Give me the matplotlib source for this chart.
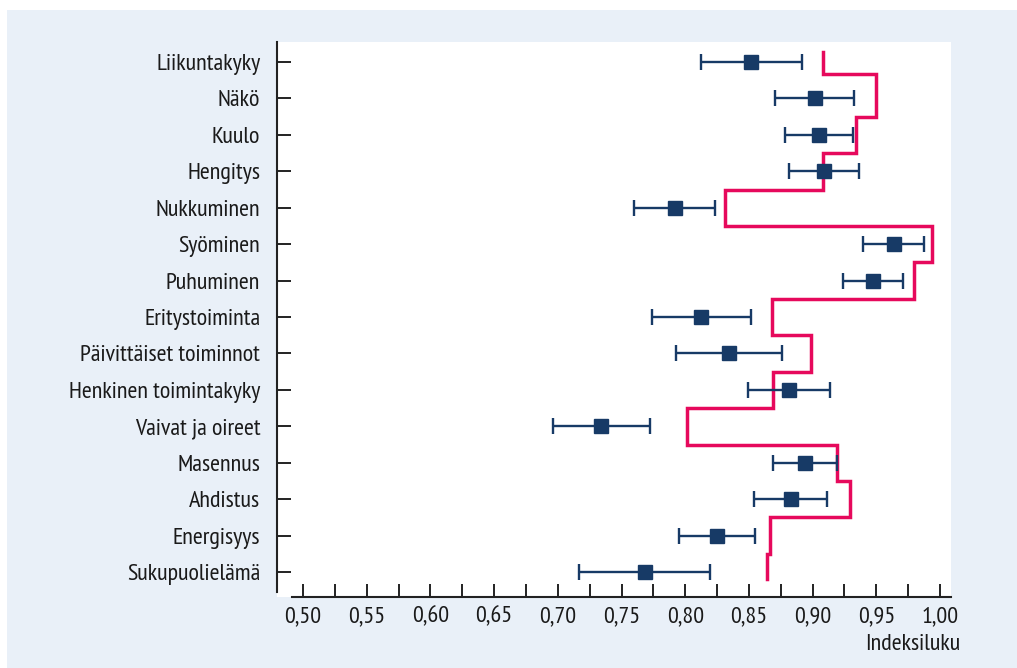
import matplotlib
matplotlib.use("Agg")
import matplotlib.pyplot as plt
from matplotlib.ticker import MultipleLocator, FuncFormatter
from matplotlib.patches import Rectangle
import numpy as np

categories = ["Liikuntakyky", "Näkö", "Kuulo", "Hengitys", "Nukkuminen", "Syöminen",
              "Puhuminen", "Eritystoiminta", "Päivittäiset toiminnot",
              "Henkinen toimintakyky", "Vaivat ja oireet", "Masennus", "Ahdistus",
              "Energisyys", "Sukupuolielämä"]
means = [0.8517, 0.9018, 0.9050, 0.9089, 0.7920, 0.9640, 0.9475, 0.8123, 0.8344,
         0.8818, 0.7337, 0.8941, 0.8833, 0.8250, 0.7685]
ci_low = [0.8123, 0.8703, 0.8780, 0.8815, 0.7601, 0.9398, 0.9240, 0.7737, 0.7931,
          0.8495, 0.6961, 0.8692, 0.8541, 0.7951, 0.7165]
ci_high = [0.8913, 0.9324, 0.9320, 0.9366, 0.8232, 0.9878, 0.9706, 0.8520, 0.8759,
           0.9134, 0.7723, 0.9194, 0.9116, 0.8545, 0.8193]
reference = [0.9078, 0.9499, 0.9338, 0.9078, 0.8313, 0.9938, 0.9798, 0.8682, 0.8990,
             0.8689, 0.8011, 0.9194, 0.9292, 0.8667, 0.8639]
xticks_major = [0.50, 0.55, 0.60, 0.65, 0.70, 0.75, 0.80, 0.85, 0.90, 0.95, 1.00]
xlabel = "Indeksiluku"

FONT = ["PT Sans Narrow", "Roboto Condensed", "DejaVu Sans"]
plt.rcParams["font.family"] = FONT
FS = 17.4

W, H = 1017, 668
fig = plt.figure(figsize=(W / 100, H / 100), dpi=100, facecolor="white")
bg = "#e9f0f8"
fig.patches.append(Rectangle((7 / W, 0), 1 - 7 / W, 1 - 10 / H, transform=fig.transFigure,
                             facecolor=bg, edgecolor="none", zorder=-10))

ax = fig.add_axes([277 / W, 71 / H, (951 - 277) / W, (597 - 42) / H])
ax.set_facecolor("white")

n = len(categories)
ypos = np.arange(n)

# reference step line
edges = [-0.27, 0.33] + [i + 0.5 for i in range(1, n - 1)] + [n - 1 + 0.19]
sx, sy = [], []
for i, r in enumerate(reference):
    sx += [r, r]
    sy += [edges[i], edges[i + 1]]
ax.plot(sx, sy, color="#e6095c", lw=2.5, solid_joinstyle="miter", zorder=2)

navy = "#173a66"
means_a = np.array(means)
xerr = np.vstack([means_a - np.array(ci_low), np.array(ci_high) - means_a])
ax.errorbar(means, ypos, xerr=xerr, fmt="s", color=navy, ecolor=navy, elinewidth=1.7,
            capsize=5.5, capthick=1.7, markersize=10.3, zorder=3)

ax.set_xlim(0.4796, 1.0086)
ax.set_ylim(14.686, -0.549)

ax.set_yticks(ypos)
ax.set_yticklabels(categories, fontsize=FS, color="#1a1a1a")
ax.xaxis.set_minor_locator(MultipleLocator(0.025))
ax.set_xticks(xticks_major)
ax.xaxis.set_major_formatter(FuncFormatter(lambda v, p: f"{v:.2f}".replace(".", ",")))
for lab in ax.get_xticklabels():
    lab.set_fontsize(FS)
    lab.set_color("#1a1a1a")

ax.tick_params(axis="y", direction="in", length=10, width=1.4, pad=12, color="#222222")
ax.tick_params(axis="x", which="both", direction="in", length=9.5, width=1.4, pad=7,
               color="#222222")

for s in ["top", "right"]:
    ax.spines[s].set_visible(False)
ax.spines["left"].set_linewidth(1.5)
ax.spines["left"].set_color("#222222")
ax.spines["left"].set_bounds(14.55, -0.549)
ax.spines["bottom"].set_linewidth(1.5)
ax.spines["bottom"].set_color("#222222")
ax.spines["bottom"].set_bounds(0.491, 1.0086)

fig.text(960 / W, 1 - 645 / H, xlabel, ha="right", va="center", fontsize=FS,
         color="#1a1a1a")

fig.savefig("out.png", dpi=100, facecolor="white")
